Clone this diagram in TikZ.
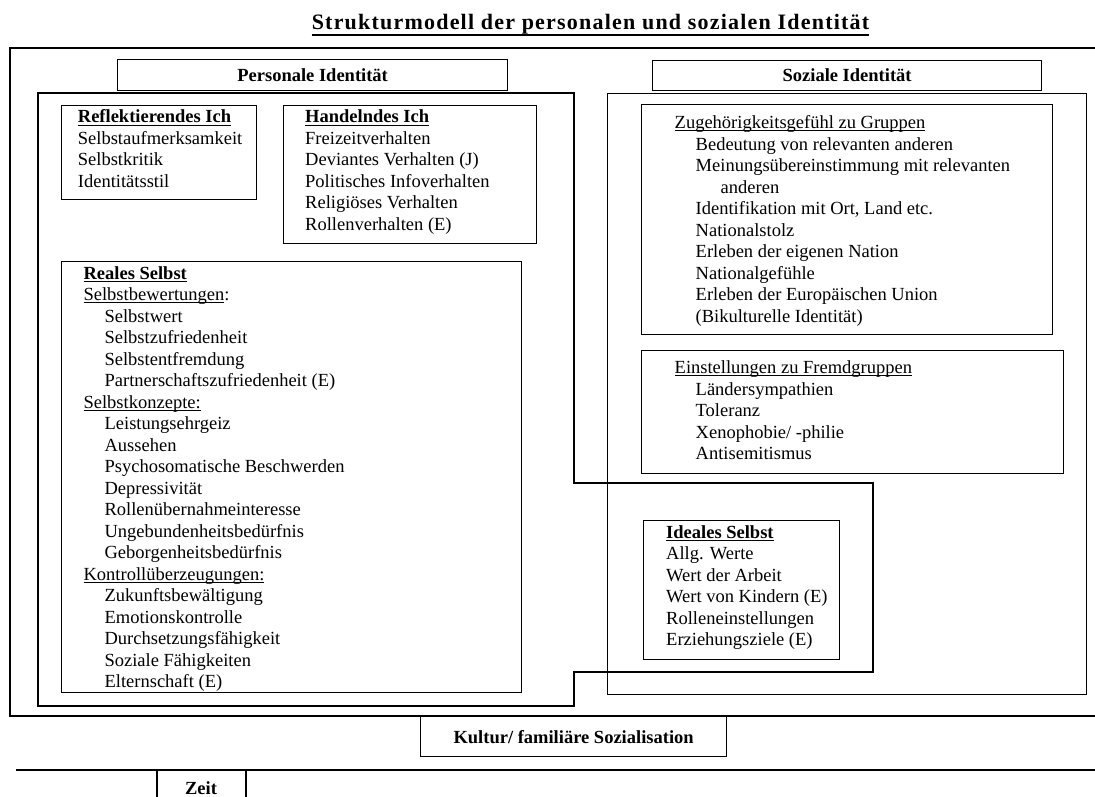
\documentclass[tikz,border=0pt]{standalone}
\usepackage{fontspec}
\setmainfont{Liberation Serif}
\newfontfamily\titelfont[LetterSpace=5.5]{Liberation Serif}
\usepackage{tikz}
\usetikzlibrary{positioning}
\newcommand{\fs}{\fontsize{18.5}{21.5}\selectfont}
\newcommand{\ein}{\hspace*{21pt}}
\newlength{\ulbreite}
\newcommand{\unter}[1]{\settowidth{\ulbreite}{#1}\rlap{\rule[-2.6pt]{\ulbreite}{0.9pt}}#1}

\begin{document}
\begin{tikzpicture}[x=1pt, y=-1pt,
    rahmen/.style={line width=1.2pt},
    kasten/.style={draw, line width=1.2pt, inner sep=0pt, anchor=north west},
    kopf/.style={draw, line width=1.2pt, inner sep=0pt, anchor=north west, font=\fs\bfseries},
    liste/.style={anchor=north west, align=left, inner sep=0pt, font=\fs}]
    \useasboundingbox (0,0) rectangle (1095,796);

    % Titel
    \node[font=\titelfont\fontsize{22}{25}\selectfont\bfseries, inner sep=0pt, anchor=base] (titel) at (590.5,29) {Strukturmodell der personalen und sozialen Identität};
    \draw[line width=1.8pt] ([yshift=-6pt]titel.base west) -- ([yshift=-6pt]titel.base east);

    % äußerer Rahmen und Zeitachse
    \draw[rahmen] (1100,48) -- (10,48) -- (10,716) -- (1100,716);
    \draw[rahmen] (16,770) -- (1100,770);
    \draw[rahmen] (157,770) -- (157,800);
    \draw[rahmen] (246,770) -- (246,800);
    \node[font=\fs\bfseries, inner sep=0pt, anchor=base] (zeit) at (201,794) {Zeit};

    % Personale Identität
    \node[kopf, minimum width=390, minimum height=31] (perskopf) at (117,59) {Personale Identität};
    \draw[rahmen] (38,93) -- (574,93) -- (574,483) -- (873,483) -- (873,672) -- (574,672) -- (574,706) -- (38,706) -- cycle;

    \node[kasten, minimum width=195, minimum height=94] (refl) at (60.5,105) {};
    \node[liste] (refltext) at (77.7,107.7) {\strut\unter{\textbf{Reflektierendes Ich}}\\
        Selbstaufmerksamkeit\\Selbstkritik\\Identitätsstil};

    \node[kasten, minimum width=253, minimum height=138] (hand) at (283,105) {};
    \node[liste] (handtext) at (305,107.7) {\strut\unter{\textbf{Handelndes Ich}}\\
        Freizeitverhalten\\Deviantes Verhalten (J)\\Politisches Infoverhalten\\
        Religiöses Verhalten\\Rollenverhalten (E)};

    \node[kasten, minimum width=460, minimum height=431] (real) at (60.5,261) {};
    \node[liste] (realtext) at (83.4,264) {\strut\unter{\textbf{Reales Selbst}}\\
        \unter{Selbstbewertungen}:\\
        \ein Selbstwert\\\ein Selbstzufriedenheit\\\ein Selbstentfremdung\\
        \ein Partnerschaftszufriedenheit (E)\\
        \unter{Selbstkonzepte:}\\
        \ein Leistungsehrgeiz\\\ein Aussehen\\\ein Psychosomatische Beschwerden\\
        \ein Depressivität\\\ein Rollenübernahmeinteresse\\\ein Ungebundenheitsbedürfnis\\
        \ein Geborgenheitsbedürfnis\\
        \unter{Kontrollüberzeugungen:}\\
        \ein Zukunftsbewältigung\\\ein Emotionskontrolle\\\ein Durchsetzungsfähigkeit\\
        \ein Soziale Fähigkeiten\\\ein Elternschaft (E)};

    % Soziale Identität
    \node[kopf, minimum width=389, minimum height=30] (sozkopf) at (652,60) {Soziale Identität};
    \node[kasten, minimum width=479, minimum height=601] (soz) at (607,93) {};

    \node[kasten, minimum width=411, minimum height=230] (zugeh) at (640.5,104) {};
    \node[liste] (zugehtext) at (674.5,113.5) {\strut\unter{Zugehörigkeitsgefühl zu Gruppen}\\
        \ein Bedeutung von relevanten anderen\\
        \ein Meinungsübereinstimmung mit relevanten\\
        \hspace*{46pt}anderen\\
        \ein Identifikation mit Ort, Land etc.\\\ein Nationalstolz\\
        \ein Erleben der eigenen Nation\\\ein Nationalgefühle\\
        \ein Erleben der Europäischen Union\\\ein (Bikulturelle Identität)};

    \node[kasten, minimum width=422.5, minimum height=123] (einst) at (640.5,349.5) {};
    \node[liste] (einsttext) at (674.5,358.5) {\strut\unter{Einstellungen zu Fremdgruppen}\\
        \ein Ländersympathien\\\ein Toleranz\\\ein Xenophobie/ -philie\\\ein Antisemitismus};

    \node[kasten, minimum width=196, minimum height=139] (ideal) at (643,520) {};
    \node[liste] (idealtext) at (666,523) {\strut\unter{\textbf{Ideales Selbst}}\\
        Allg. Werte\\Wert der Arbeit\\Wert von Kindern (E)\\Rolleneinstellungen\\Erziehungsziele (E)};

    % Kultur
    \node[kopf, minimum width=306, minimum height=40] (kultur) at (420,716) {Kultur/ familiäre Sozialisation};
\end{tikzpicture}
\end{document}
